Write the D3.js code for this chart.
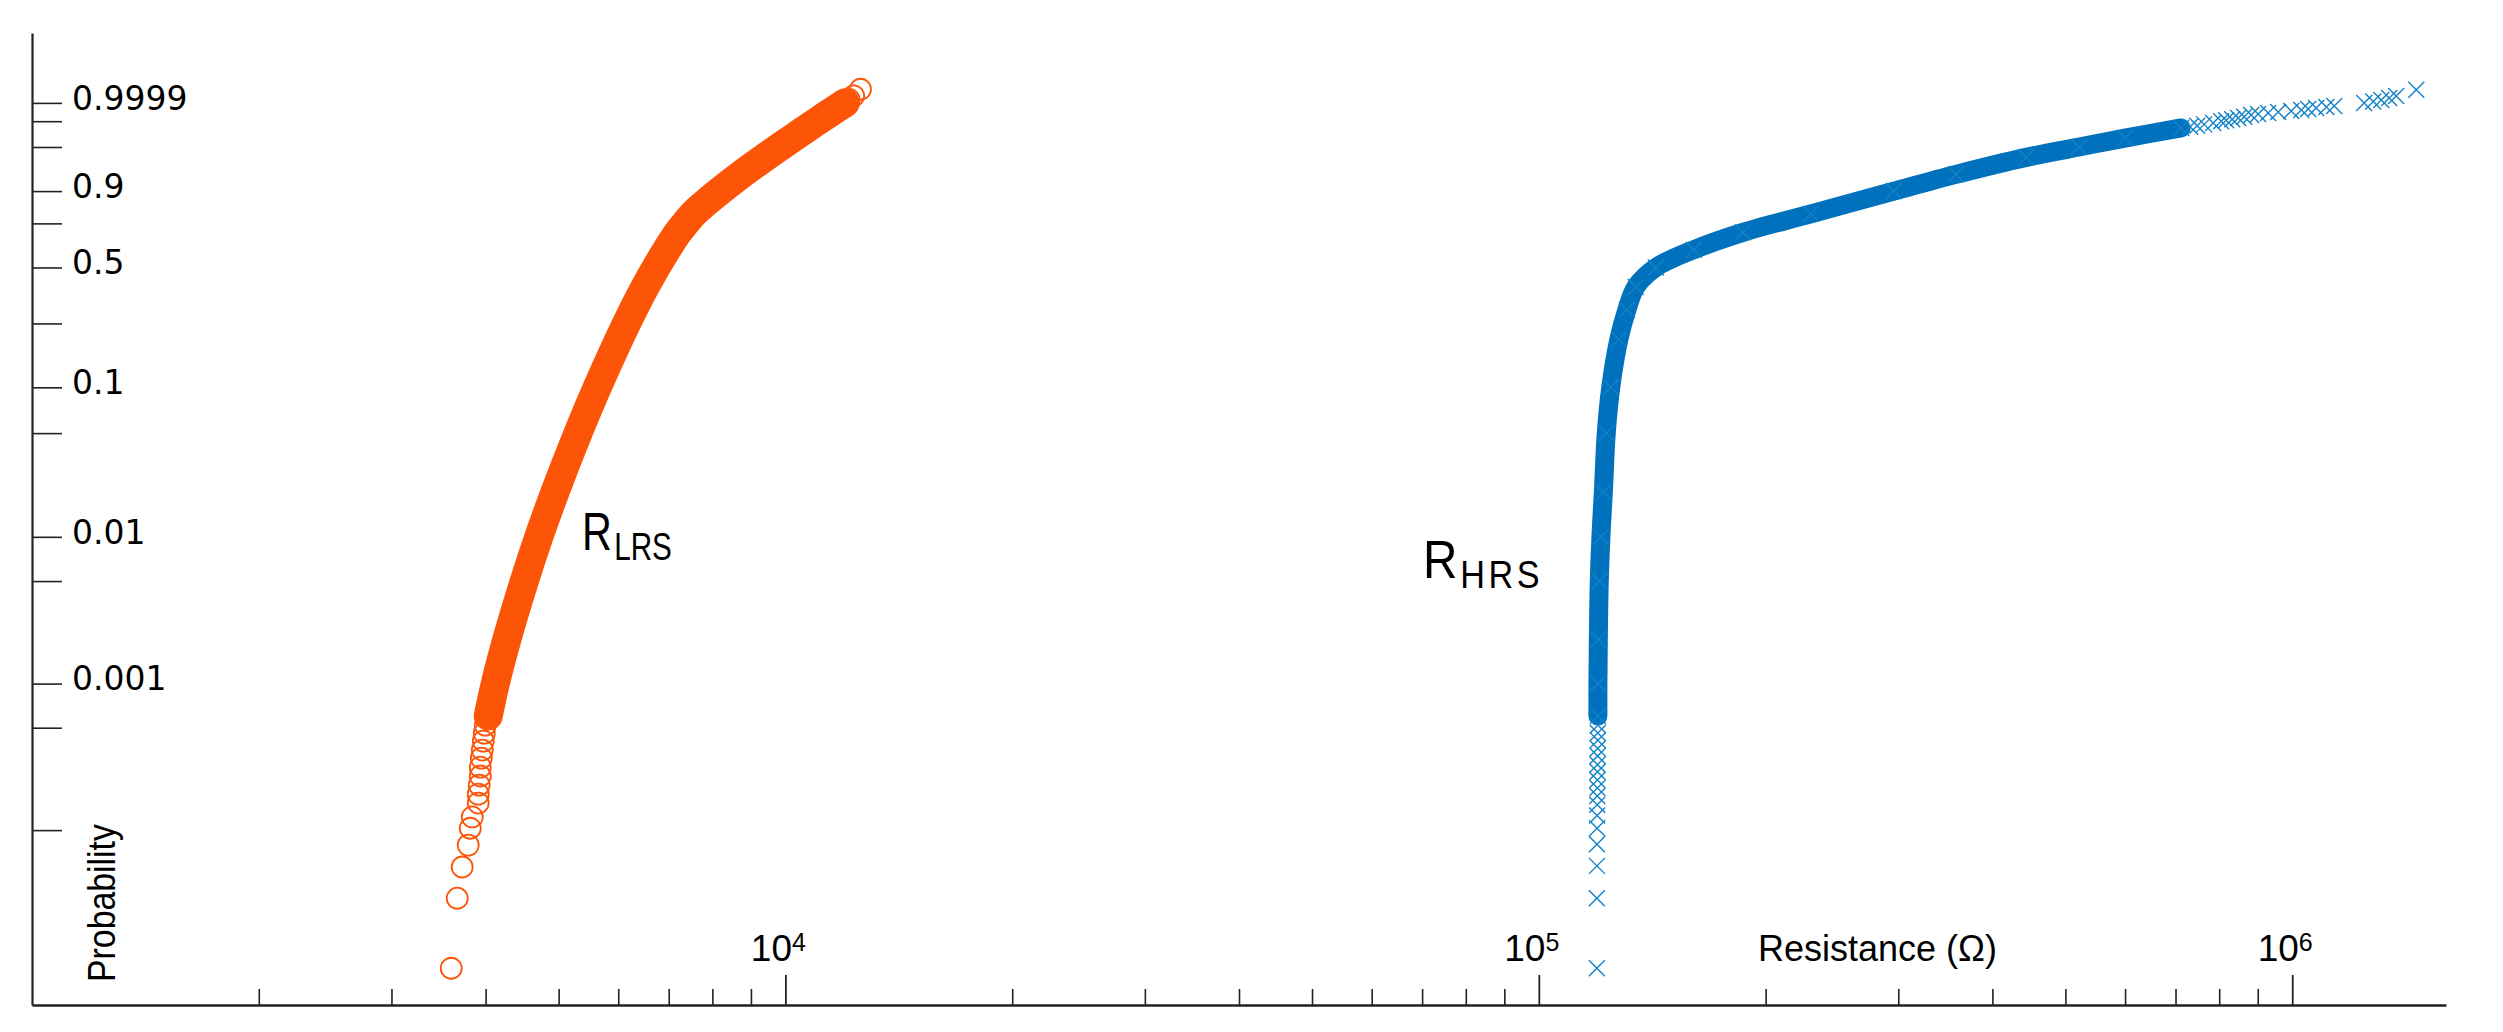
<!DOCTYPE html>
<html>
<head>
<meta charset="utf-8">
<script src="https://cdn.jsdelivr.net/npm/d3@7"></script>
<style>
  html, body { margin: 0; padding: 0; background: #ffffff; }
  svg { display: block; }
</style>
</head>
<body>
<svg id="chart" width="2503" height="1032"></svg>
<script>
// ---------------- DATA ----------------
// Weibull probability axis: tick positions and labelled ticks
const yTickValues = [0.0001, 0.0005, 0.001, 0.005, 0.01, 0.05, 0.1, 0.25, 0.5, 0.75, 0.9, 0.99, 0.999, 0.9999];
const yLabelValues = [0.001, 0.01, 0.1, 0.5, 0.9, 0.9999];
const yLabelTexts = ["0.001", "0.01", "0.1", "0.5", "0.9", "0.9999"];

// Resistance axis (log)
const xMajorTicks = [1e4, 1e5, 1e6];
const xMajorBase = ["10", "10", "10"];
const xMajorExp = ["4", "5", "6"];
const xMinorTicks = [2e3, 3e3, 4e3, 5e3, 6e3, 7e3, 8e3, 9e3,
                     2e4, 3e4, 4e4, 5e4, 6e4, 7e4, 8e4, 9e4,
                     2e5, 3e5, 4e5, 5e5, 6e5, 7e5, 8e5, 9e5];

// R_LRS series: [resistance (ohm), cumulative probability]
const lrsLowTail = [
  [3601, 1.14e-5], [3668, 3.43e-5], [3724, 5.6e-5], [3793, 7.9e-5], [3817, 1.03e-4],
  [3840, 1.23e-4], [3911, 1.53e-4], [3911, 1.76e-4], [3923, 2.03e-4], [3936, 2.34e-4],
  [3936, 2.69e-4], [3948, 3.1e-4], [3960, 3.52e-4], [3972, 4.05e-4], [3984, 4.59e-4],
  [3996, 5.2e-4]
];
const lrsBand = [
  [4032, 0.0006], [4120, 0.001], [4268, 0.002], [4502, 0.005], [4707, 0.01],
  [4943, 0.02], [5305, 0.05], [5627, 0.1], [6010, 0.2], [6281, 0.3],
  [6513, 0.4], [6734, 0.5], [6958, 0.6], [7205, 0.7], [7363, 0.75],
  [7548, 0.8], [7820, 0.85], [8183, 0.9], [8743, 0.95], [9393, 0.98],
  [9827, 0.99], [10223, 0.995], [10696, 0.998], [11028, 0.999], [11335, 0.9995],
  [11723, 0.9998], [12007, 0.9999]
];
const lrsHighTail = [
  [12050, 0.99992], [12150, 0.99994], [12320, 0.999966], [12580, 0.999989]
];

// R_HRS series: [resistance (ohm), cumulative probability]
const hrsLowTail = [
  [119400, 1.14e-5], [119400, 3.43e-5], [119450, 5.7e-5], [119450, 8.0e-5],
  [119500, 1.03e-4], [119500, 1.26e-4], [119550, 1.49e-4], [119550, 1.71e-4],
  [119600, 1.94e-4], [119600, 2.2e-4], [119650, 2.5e-4], [119650, 2.8e-4],
  [119700, 3.2e-4], [119700, 3.6e-4], [119750, 4.1e-4], [119750, 4.6e-4],
  [119800, 5.2e-4]
];
const hrsBand = [
  [119800, 0.0006], [119800, 0.001], [119950, 0.002], [120300, 0.005], [120900, 0.01],
  [121800, 0.02], [122900, 0.05], [124600, 0.1], [127700, 0.2], [130900, 0.3],
  [134500, 0.4], [143000, 0.5], [160600, 0.6], [186600, 0.7], [229700, 0.8],
  [296000, 0.9], [358000, 0.95], [443400, 0.98], [521300, 0.99], [600000, 0.995],
  [712200, 0.998]
];
const hrsUpperScatter = [
  [732100, 0.9982], [747900, 0.9984], [764100, 0.9986], [785400, 0.9988], [804900, 0.999],
  [817300, 0.9991], [832400, 0.9992], [847800, 0.9993], [863500, 0.9994], [882200, 0.9995]
];
const hrsHighTail = [
  [901000, 0.999565], [929000, 0.999615], [958000, 0.99966], [997000, 0.9997],
  [1028000, 0.999737], [1050000, 0.999769], [1076000, 0.999797], [1110000, 0.999823],
  [1137000, 0.999846], [1246000, 0.9999], [1281000, 0.999919], [1313000, 0.999935],
  [1345000, 0.999952], [1374000, 0.999965], [1461000, 0.999988]
];

// ---------------- CHART ----------------
(function () {
const svg = d3.select("#chart");
const plotLeft = 32, plotRight = 2446, plotTop = 33, plotBottom = 1005;

const orange = "#fc5508";
const blue = "#0072bd";
const blueThin = "#1282c8";
const axisColor = "#222";

const x = d3.scaleLog().domain([1000, 1.6e6]).range([plotLeft, plotRight]);
const W = p => Math.log(-Math.log(1 - p));           // Weibull transform
const wScale = d3.scaleLinear().domain([W(6.4e-6), W(1 - 1e-12)]).range([plotBottom, plotTop]);
const y = p => wScale(W(p));

// --- Y axis (ticks only, inward) ---
const yAxis = d3.axisRight(wScale)
  .tickValues(yTickValues.map(W))
  .tickSize(30).tickSizeOuter(0)
  .tickFormat(() => "");
const gy = svg.append("g").attr("transform", `translate(${plotLeft},0)`).call(yAxis);
gy.select(".domain").attr("stroke", axisColor).attr("stroke-width", 2.2);
gy.selectAll(".tick line").attr("stroke", axisColor).attr("stroke-width", 1.6);

// Y labels
svg.append("g").selectAll("text").data(yLabelValues).join("text")
  .attr("x", 72)
  .attr("y", d => y(d) - 5)
  .attr("dy", "0.36em")
  .attr("font-family", "DejaVu Sans, Verdana, sans-serif")
  .attr("font-size", 33)
  .attr("fill", "#000")
  .text((d, i) => yLabelTexts[i]);

// --- X axis (ticks inward / upward) ---
const gxMinor = svg.append("g").attr("transform", `translate(0,${plotBottom})`)
  .call(d3.axisTop(x).tickValues(xMinorTicks).tickSize(16).tickSizeOuter(0).tickFormat(() => ""));
gxMinor.select(".domain").attr("stroke", axisColor).attr("stroke-width", 2.6);
gxMinor.selectAll(".tick line").attr("stroke", axisColor).attr("stroke-width", 1.6);

const gxMajor = svg.append("g").attr("transform", `translate(0,${plotBottom})`)
  .call(d3.axisTop(x).tickValues(xMajorTicks).tickSize(30).tickSizeOuter(0).tickFormat(() => ""));
gxMajor.select(".domain").remove();
gxMajor.selectAll(".tick line").attr("stroke", axisColor).attr("stroke-width", 1.8);

// X major labels with superscripts
const xl = svg.append("g").selectAll("text").data(xMajorTicks).join("text")
  .attr("x", d => x(d) - 7)
  .attr("y", 961)
  .attr("text-anchor", "middle")
  .attr("font-family", "Liberation Sans, Arial, sans-serif")
  .attr("font-size", 37)
  .attr("fill", "#000");
xl.append("tspan").text((d, i) => xMajorBase[i]);
xl.append("tspan").attr("font-size", 25).attr("dy", -10).text((d, i) => xMajorExp[i]);

// Axis titles
svg.append("text")
  .attr("x", 1758).attr("y", 961)
  .attr("font-family", "Liberation Sans, Arial, sans-serif")
  .attr("font-size", 36).attr("fill", "#000")
  .text("Resistance (\u03A9)");

svg.append("text")
  .attr("transform", "translate(115,982) rotate(-90) scale(0.89,1)")
  .attr("font-family", "Liberation Sans, Arial, sans-serif")
  .attr("font-size", 38).attr("fill", "#000")
  .text("Probability");

// --- Data marks ---
const line = d3.line().x(d => x(d[0])).y(d => y(d[1])).curve(d3.curveCatmullRom.alpha(0.5));

// LRS band (dense overlapping circles) + circles
svg.append("path").datum(lrsBand)
  .attr("d", line).attr("fill", "none")
  .attr("stroke", orange).attr("stroke-width", 29)
  .attr("stroke-linecap", "round").attr("stroke-linejoin", "round");

const lrsAll = lrsLowTail.concat(lrsBand, lrsHighTail);
svg.append("g").selectAll("circle").data(lrsAll).join("circle")
  .attr("cx", d => x(d[0])).attr("cy", d => y(d[1]))
  .attr("r", 10.5)
  .attr("fill", "none").attr("stroke", orange).attr("stroke-width", 1.8);

// HRS band (dense overlapping crosses) + crosses
svg.append("path").datum(hrsBand)
  .attr("d", line).attr("fill", "none")
  .attr("stroke", blue).attr("stroke-width", 19)
  .attr("stroke-linecap", "round").attr("stroke-linejoin", "round");

const s = 8;
const hrsAll = hrsLowTail.concat(hrsBand, hrsUpperScatter, hrsHighTail);
svg.append("g").selectAll("path").data(hrsAll).join("path")
  .attr("transform", d => `translate(${x(d[0])},${y(d[1])})`)
  .attr("d", `M${-s},${-s}L${s},${s}M${-s},${s}L${s},${-s}`)
  .attr("fill", "none").attr("stroke", blueThin).attr("stroke-width", 1.4);

// --- Series annotations ---
function seriesLabel(tx, ty, sub, sx, spacing) {
  const t = svg.append("text")
    .attr("transform", `translate(${tx},${ty}) scale(${sx},1)`)
    .attr("font-family", "Liberation Sans, Arial, sans-serif")
    .attr("fill", "#000");
  t.append("tspan").attr("font-size", 53).text("R");
  t.append("tspan").attr("font-size", 38).attr("dx", 3).attr("dy", 10)
    .attr("letter-spacing", spacing).text(sub);
}
seriesLabel(582, 550, "LRS", 0.78, 0);
seriesLabel(1423, 578, "HRS", 0.9, 4);
})();
</script>
</body>
</html>
